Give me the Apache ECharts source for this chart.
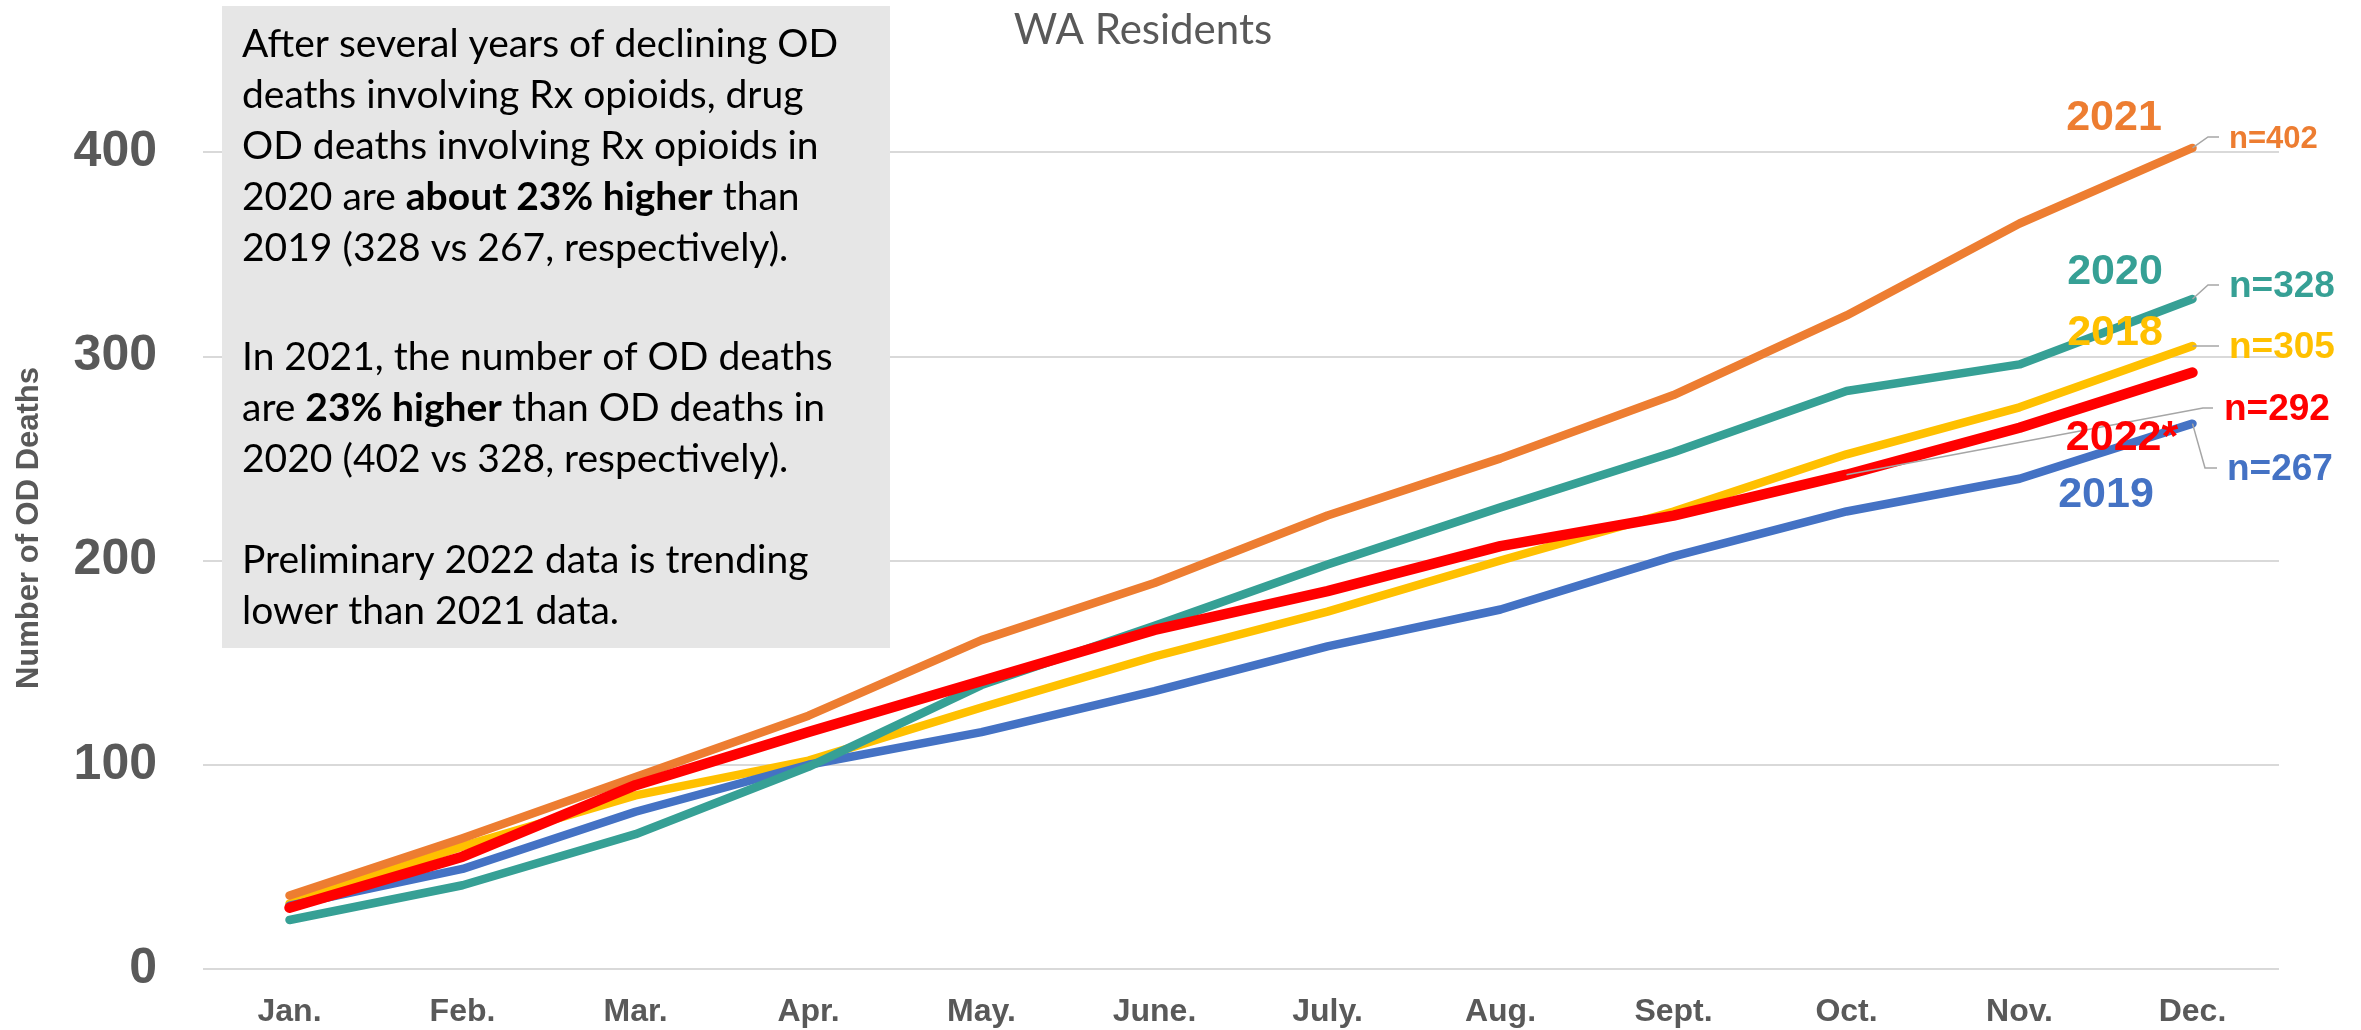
<!DOCTYPE html>
<html><head><meta charset="utf-8">
<script src="https://cdn.jsdelivr.net/npm/echarts@6/dist/echarts.min.js"></script>
<style>html,body{margin:0;padding:0;background:#fff}#c{width:2361px;height:1030px}</style>
</head><body><div id="c"></div>
<script>
const months = ['Jan.','Feb.','Mar.','Apr.','May.','June.','July.','Aug.','Sept.','Oct.','Nov.','Dec.'];
const y2018 = [32, 60, 85, 102, 128, 153, 175, 200, 224, 252, 275, 305];
const y2019 = [31, 49, 77, 100, 116, 136, 158, 176, 202, 224, 240, 267];
const y2020 = [24, 41, 66, 99, 139, 168, 198, 226, 253, 283, 296, 328];
const y2021 = [36, 64, 94, 124, 161, 189, 222, 250, 281, 320, 365, 402];
const y2022 = [30, 55, 90, 116, 141, 166, 185, 207, 222, 242, 265, 292];
const yTicks = [0, 100, 200, 300, 400];
const seriesNames = ['2018', '2019', '2020', '2021', '2022*'];
const totals = ['n=305', 'n=267', 'n=328', 'n=402', 'n=292'];

const colors = {'2018':'#FFC000','2019':'#4472C4','2020':'#36A095','2021':'#ED7D31','2022*':'#FF0000'};
const seriesData = [y2018, y2019, y2020, y2021, y2022];

const chart = echarts.init(document.getElementById('c'));
const gray = '#595959';
const LS = 'Liberation Sans';

const boxParas = [
  ['After several years of declining OD',
   'deaths involving Rx opioids, drug',
   'OD deaths involving Rx opioids in',
   '2020 are {b|about 23% higher} than',
   '2019 (328 vs 267, respectively).'],
  ['In 2021, the number of OD deaths',
   'are {b|23% higher} than OD deaths in',
   '2020 (402 vs 328, respectively).'],
  ['Preliminary 2022 data is trending',
   'lower than 2021 data.']
];
const paraStart = [44, 357, 560];

chart.setOption({
  animation: false,
  backgroundColor: '#fff',
  title: {
    text: 'WA Residents', left: 1138, top: 4, textAlign: 'center',
    textStyle: {color: gray, fontSize: 42, fontWeight: 'normal', fontFamily: 'Lato'}
  },
  grid: {left: 203, right: 82, top: 152, bottom: 61},
  xAxis: {
    type: 'category', data: months, boundaryGap: true,
    axisLine: {show: false}, axisTick: {show: false},
    axisLabel: {color: gray, fontFamily: LS, fontWeight: 'bold', fontSize: 32, margin: 27}
  },
  yAxis: {
    type: 'value', min: yTicks[0], max: yTicks[yTicks.length-1], interval: 100,
    axisLine: {show: false}, axisTick: {show: false},
    axisLabel: {color: gray, fontFamily: LS, fontWeight: 'bold', fontSize: 50, margin: 46},
    splitLine: {lineStyle: {color: '#D9D9D9', width: 2}}
  },
  series: seriesNames.map((n, i) => ({
    name: n, type: 'line', data: seriesData[i], symbol: 'none', clip: false,
    z: 2 + i,
    lineStyle: {color: colors[n], width: n === '2022*' ? 10.5 : 8.5, cap: 'round', join: 'round'}
  }))
});

function px(si, idx) { return chart.convertToPixel({gridIndex: 0}, [idx, seriesData[si][idx]]); }

const g = [];
g.push({type: 'rect', shape: {x: 222, y: 6, width: 668, height: 642}, style: {fill: '#E6E6E6'}, z: 10});
boxParas.forEach((p, pi) => {
  p.forEach((t, i) => {
    g.push({type: 'text', x: 242, y: paraStart[pi] + i * 51, z: 11,
      style: {text: t, fill: '#000', fontSize: 39, fontFamily: 'Lato', verticalAlign: 'middle',
        rich: {b: {fontWeight: 'bold', fontSize: 39, fontFamily: 'Lato', fill: '#000'}}}});
  });
});
g.push({type: 'text', x: 29, y: 528, rotation: Math.PI / 2, z: 11,
  style: {text: 'Number of OD Deaths', fill: gray, fontSize: 31, fontWeight: 'bold', fontFamily: LS,
    align: 'center', verticalAlign: 'middle'}});
const yearPos = {'2021': [2114, 118], '2020': [2115, 272], '2018': [2115, 333], '2022*': [2122, 438], '2019': [2106, 495]};
seriesNames.forEach(n => {
  g.push({type: 'text', x: yearPos[n][0], y: yearPos[n][1], z: 12,
    style: {text: n, fill: colors[n], fontSize: 43, fontWeight: 'bold', fontFamily: LS, align: 'center', verticalAlign: 'middle'}});
});
const lg = '#A6A6A6';
const p18 = px(0, 11), p19 = px(1, 11), p20 = px(2, 11), p21 = px(3, 11), p22oct = px(4, 9);
const leaders = [
  {pts: [p21, [2208, 137], [2219, 137]], lab: totals[3], pos: [2229, 139], size: 31, c: colors['2021']},
  {pts: [p20, [2208, 285], [2219, 285]], lab: totals[2], pos: [2229, 287], size: 37, c: colors['2020']},
  {pts: [p18, [2219, 346]], lab: totals[0], pos: [2229, 348], size: 37, c: colors['2018']},
  {pts: [p22oct, [2203, 408], [2213, 408]], lab: totals[4], pos: [2224, 410], size: 37, c: colors['2022*']},
  {pts: [p19, [2205, 468], [2217, 468]], lab: totals[1], pos: [2227, 470], size: 37, c: colors['2019']}
];
leaders.forEach(l => {
  g.push({type: 'polyline', shape: {points: l.pts}, style: {stroke: lg, lineWidth: 1.5, fill: null}, z: 9});
  g.push({type: 'text', x: l.pos[0], y: l.pos[1], z: 12,
    style: {text: l.lab, fill: l.c, fontSize: l.size, fontWeight: 'bold', fontFamily: LS, align: 'left', verticalAlign: 'middle'}});
});
chart.setOption({graphic: g});
</script>
</body></html>
